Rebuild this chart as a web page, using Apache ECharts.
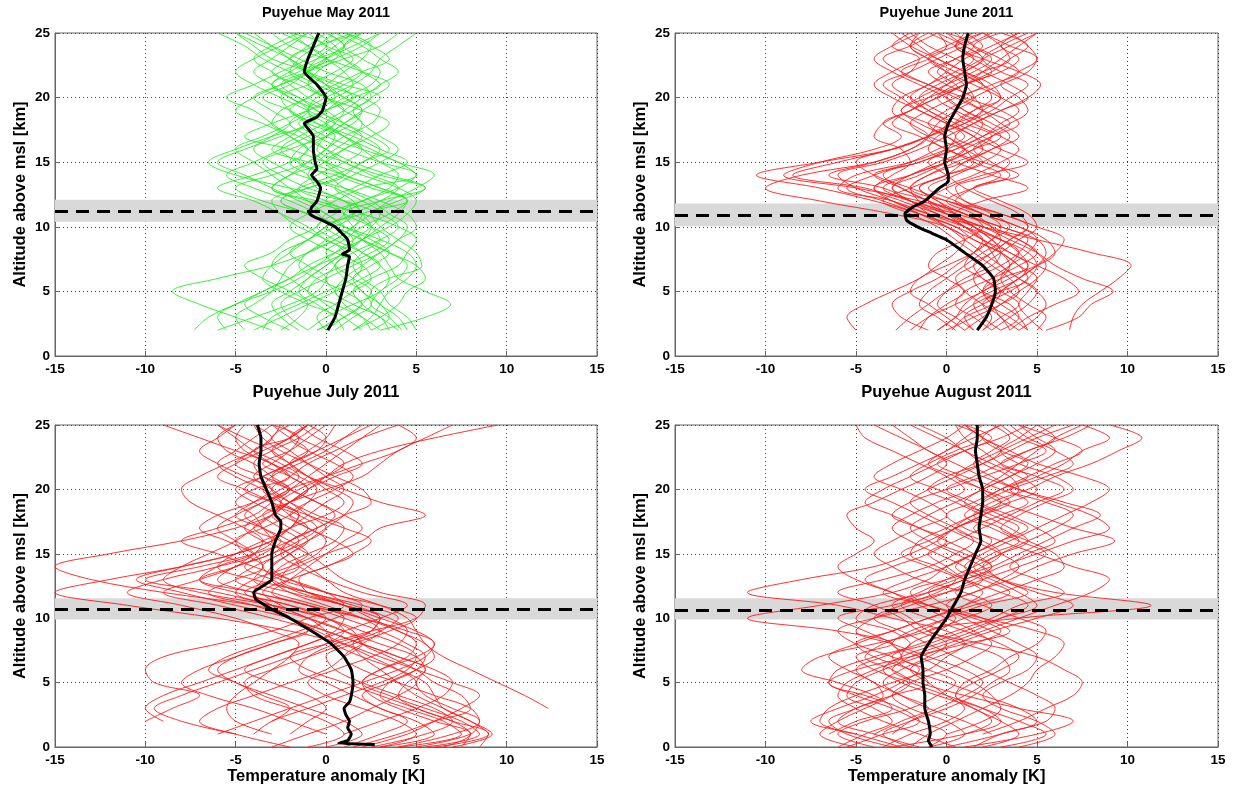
<!DOCTYPE html>
<html>
<head>
<meta charset="utf-8">
<title>Puyehue 2011 temperature anomaly profiles</title>
<script src="https://cdn.jsdelivr.net/npm/echarts@6/dist/echarts.min.js"></script>
<style>
  html, body { margin: 0; padding: 0; background: #fff; }
  #chart { width: 1234px; height: 790px; }
</style>
</head>
<body>
<div id="chart"></div>
<script>
// altitude levels (km) for the profiles
const ALT_TOP = [2, 3, 4, 5, 6, 7, 8, 9, 10, 11, 12, 13, 14, 15, 16, 17, 18, 19, 20, 21, 22, 23, 24, 25];
const ALT_BOT = [0, 1, 2, 3, 4, 5, 6, 7, 8, 9, 10, 11, 12, 13, 14, 15, 16, 17, 18, 19, 20, 21, 22, 23, 24, 25];

const X_TICKS = [-15, -10, -5, 0, 5, 10, 15];
const Y_TICKS = [0, 5, 10, 15, 20, 25];

// May 2011 (green), one row per profile, values at ALT_TOP
const MAY_PROFILES = [
  [-3, -5, -7, -8.5, -6, -3, -1, 0.5, 1.5, 2, 1, -0.5, -1, -2, -1.5, -0.5, 0.5, 1, 0, -1, -0.5, 0.5, 1, 0],
  [-7.3, -6.5, -5, -3, -1.5, -0.5, 0.5, 1.5, 2.5, 3, 2, 0.5, -1, -0.5, 0.5, 1.5, 2, 1, 0, -1, -2, -1.5, -0.5, 0.5],
  [3, 5.5, 6.9, 5.5, 4, 3.5, 3, 2, 1.5, 1, 3, 5.5, 3, 1, 0, -1, -2, -1, 0.5, 1.5, 1, 0, -1, -2],
  [4.5, 4, 3, 2.5, 3.5, 5.3, 5, 4, 3, 2.5, 4.5, 3, 1, -1, -3, -2, -1, 0, 1, 2.5, 3, 2, 1, 2],
  [-1.5, -2.5, -3, -2, -1, 0, 1, 2, 3.5, 4.5, 5, 4, 2, 0, -2, -4.5, -3, -1, 0.5, 0, -1, -2, -3, -4],
  [0.5, 1.5, 2.5, 2, 1, 0.5, 1.5, 3, 4, 3, 1, -2, -5, -6.5, -5, -3, -1, -2, -3.5, -2, -1, 0, -1, -2.5],
  [2, 1, 0, -1, -2, -3, -2.5, -1, 0, 1, -1, -3, -2, -1, 0, 1, 2.5, 3, 2, 0, -1, -3, -4, -5],
  [-4.5, -5, -4, -3, -2.5, -2, -1, 0, 1, 0, -1, -2, -3, -4, -5, -3.5, -2, -1, -2, -3, -4, -3, -2, -1],
  [5, 4.5, 3.5, 3, 2, 1.5, 2, 3, 2.5, 1.5, 0, -1.5, -0.5, 1, 2, 1, -0.5, -1, 0, 1.5, 2.5, 3, 4, 5],
  [1.5, 2.5, 3, 3.5, 4.5, 5, 4.5, 3, 1, -1, -3.5, -5, -3, -1, 0, 0.5, -1, -2, -2.5, -1, 0.5, 1.5, 0, -1],
  [-2.5, -1.5, -1, -2, -3.5, -4.5, -3, -2, -0.5, 0, 2, 3.5, 4, 3, 2, 1, 0, -1, -0.5, 1, 2, 1, 0, 1.5],
  [3.5, 3, 1.5, 0.5, 1, 2, 3, 4, 4.5, 3.5, 2.5, 1, 0, -1.5, -2.5, -1.5, 0, 1.5, 2.5, 3.5, 2, 0, -2, -3],
  [-6, -4, -2, -0.5, 0, -1, -2, -1, 0.5, 1.5, 1, -1, -2.5, -3.5, -2, 0, 1.5, 2, 1, -0.5, -2, -3.5, -4.5, -6],
  [0, -0.5, 0.5, 1.5, 2.5, 2, 0.5, -1, -2, -1, 0.5, 2, 5, 4, 2, 0, -1, 0, 1.5, 0.5, -1, 0.5, 2, 3],
  [2.5, 2, 1, 0.5, 0, 0.5, 1, 0, -1.5, -2.5, -3, -1, 1, 2, 3.5, 2.5, 1, -0.5, -1.5, -3, -2, -0.5, 1, 0],
  [-1, 0, 1.5, 3, 3.5, 3, 2, 1, 0, 2, 4, 5.5, 3.5, 1.5, 0, -1.5, -3, -2.5, -1, 0, 1, 2, 2.5, 1],
  [4, 3, 2, 1.5, 2.5, 4, 4.5, 5, 4, 2, -0.5, -3, -2, 0, 1, 2, 1, 0, -1.5, -2.5, -1, 1, 3, 4],
  [-3.5, -3, -1.5, 0, 1.5, 2, 1.5, 0, -1, -2.5, -4, -6, -4, -2, -1, -2, -3, -4, -5.5, -4, -2.5, -1, 0, -2],
  [1, 0.5, -0.5, -1.5, -1, 0, 1, 2, 2.5, 2, 1.5, 0.5, 1.5, 3, 4, 3, 2, 1.5, 2.5, 2, 0, -1.5, -3, -4.5],
  [-0.5, 1, 2, 2.5, 1.5, 0.5, 0, 1, 2, 3.5, 4.5, 2.5, 0.5, -1.5, -1, 0, 1, 2, 3, 1, -1, -2, -0.5, 2],
  [-2, -3.5, -4.5, -3.5, -2, -1, 0.5, 2, 3, 4, 4.5, 3, 1, 0, 1, 2.5, 3.5, 2, 0, -1.5, -3, -2, -1, 0],
  [1.5, 3, 4, 4.5, 5.5, 5, 3.5, 2, 0.5, -0.5, -2, -4, -5.5, -4, -2.5, -1, 0.5, -0.5, -2, -3, -1.5, 0, 1.5, 3],
  [-5.5, -6, -5, -3.5, -2, -0.5, 1, 1.5, 0.5, -1, -2.5, -1.5, 0.5, 2, 3, 2, 0.5, -1, -2.5, -4, -5, -4, -2.5, -1],
  [3, 2, 0.5, -1, -0.5, 1, 2.5, 3.5, 2.5, 1, 0, 1.5, 3, 4.5, 3, 1.5, -0.5, -2, -1, 0.5, 2, 3.5, 2.5, 1],
  [0, 1, 2, 1, -0.5, -1.5, -1, 0.5, 1.5, 2.5, 3.5, 5, 6, 4, 2.5, 1, 0, 1, 2, 3, 4, 3, 2, 0.5],
  [-1, -2, -2.5, -1.5, 0, 1.5, 3, 4, 5, 4.5, 3, 1, -1.5, -3, -4, -3, -2, -3, -4, -2.5, -1, -2, -3.5, -5],
  [2.5, 3.5, 3, 2, 1.5, 2.5, 3.5, 2.5, 1, 0, -1.5, -3, -4.5, -6, -4.5, -2.5, -1, 0, -1, -2, -3, -4, -3, -1.5],
  [-4, -2.5, -1, 0.5, 2, 3, 2, 0.5, -0.5, 0.5, 2, 4, 5, 3, 1, -0.5, -1.5, 0, 1.5, 3, 2, 1, 0.5, -0.5],
  [4.2, 3.5, 2.5, 3, 4, 4.5, 3.5, 2, 0.5, -1, -2.5, -1, 1, 0, -1, -2, -3.5, -5, -4, -2.5, -1, 0, 1, 2],
  [-0.5, 0.5, -1, -2.5, -3.5, -3, -2, -1, 0, 1.5, 3, 4, 2.5, 1, -0.5, 0, 1, 2, 1, 0, -1, -0.5, 0.5, 1.5]
];
const MAY_MEAN_ALT = [2, 3, 4, 5, 6, 7, 7.7, 7.9, 8.2, 9, 10, 10.5, 11, 11.5, 12, 13, 13.5, 14, 14.5, 15, 16, 17, 18, 18.5, 19, 20, 21, 22, 23, 24, 25];
const MAY_MEAN_T = [0.1, 0.5, 0.7, 0.9, 1.1, 1.2, 1.3, 0.9, 1.3, 1.2, 0.5, -0.2, -0.9, -0.8, -0.5, -0.3, -0.5, -0.8, -0.5, -0.6, -0.7, -0.7, -1.2, -0.5, -0.2, 0, -0.5, -1.2, -1.0, -0.7, -0.4];
const MAY_BAND = [10.4, 12.1];
const MAY_TROP = 11.2;

// June 2011 (red), values at ALT_TOP
const JUN_PROFILES = [
  [-5, -5.5, -4.5, -3, -1.5, -0.5, 0.5, 1, 0, -3, -7, -10, -8, -4, -2, -1, -0.5, 0.5, 1.5, 1, 0, -1, -2, -1],
  [6.8, 7, 7.5, 8.5, 9.5, 10.2, 8, 5, 2, -1, -3, -4, -2, 0, 1.5, 3, 2, 0.5, -0.5, 0.5, 2, 3.5, 3, 2],
  [5.5, 7.3, 8, 9.2, 7.5, 6, 5, 3.5, 2, 0, -1.5, -2, -1, 0.5, 2, 1.5, 0, -1.5, -2.5, -3.5, -2, -0.5, 1, 2.5],
  [-2.8, -2, -1, 0, 1.5, 3, 4, 4.5, 3, 0.5, -2, -4.5, -8.5, -6, -3, -1, 0.5, 1.5, 2.5, 2, 0.5, -1, -2, -1.5],
  [1, 2, 3, 4, 5, 5.5, 5, 4, 2, 0, -2, -3, -1.5, 0, 1, 2.5, 4, 3, 1, -1, -2.5, -3.5, -2, -0.5],
  [3, 2, 1.5, 2.5, 4, 4.5, 4, 3, 1.5, 0.5, 2, 4.5, 2.5, 0.5, -1, -0.5, 1, 2.5, 3.5, 4.5, 3, 2, 3, 4.5],
  [-1.5, -1, 0, 1, 0, -1, -0.5, 1, 2, 1, -1.5, -5, -9, -7, -4, -2.5, -3.5, -2, -1, 0, 1, 2, 1, 0],
  [0.3, 1, 2.5, 3, 2, 1.5, 2.5, 3.5, 4.5, 3, 0, -2, -1, 1, 2.5, 3.5, 2.5, 1, 0, -1.5, -3, -4, -3, -1.5],
  [4.5, 4, 3, 2, 3, 5, 6, 5.5, 4, 2, 0.5, -1, 0.5, 2, 3, 2, 0.5, -1, -2, -1, 0.5, 1.5, 0.5, -1],
  [2.5, 3.5, 4.5, 5, 4, 3, 2, 1, 0, -1.5, -3, -5, -6, -3.5, -1.5, 0, 1.5, 3, 4.5, 5.2, 4, 2, 0.5, 1],
  [-1, -2.5, -3, -2, -0.5, 0.5, 1.5, 2, 1, -0.5, -2.5, -4, -3, -2, -2.5, -4, -3.5, -2, -0.5, 1, 2, 3, 4, 5],
  [5, 5.5, 4.5, 3.5, 3, 3.5, 4, 3, 1.5, 0, -1, 0, 2, 4.5, 3, 1.5, 0.5, 1.5, 3, 2.5, 1, -0.5, -1.5, -2.5],
  [1.5, 0.5, -0.5, 0, 1, 2.5, 3, 2.5, 1.5, 0.5, -1, -2.5, -4, -1.5, 0, 0.5, -1, -2.5, -1.5, 0, 1.5, 2.5, 1.5, 3],
  [3.5, 3, 2, 1, 0.5, 1.5, 2.5, 3.5, 4.5, 4, 2.5, 1, 0, -1, 0.5, 2, 3.5, 4.5, 4, 3, 4, 5, 4.5, 3.5],
  [-0.5, 0.5, 1.5, 3, 4.5, 4, 3, 1.5, 0.5, -1.5, -4, -7, -10.5, -7, -3, -1, 0, -1, -2, -3, -2, -1.5, -3, -2],
  [2, 2.5, 2, 3, 4, 5, 5.5, 5, 3, 1, -0.5, -1.5, 0, 1.5, 1, 0, -1, 0, 1, 0.5, -0.5, 0.5, 2, 1],
  [0.5, -0.5, -1.5, -1, 0, 1, 2, 3, 2.5, 1.5, 0, 1.5, 3.5, 2.5, 1.5, 2.5, 3.5, 2, 0.5, -1, -2.5, -1, 0, -0.5],
  [4, 5, 5.5, 5, 4, 3, 2.5, 2, 1, -0.5, -2, -3.5, -2, -0.5, 1, 0, -1.5, -2.5, -1, 1, 2.5, 1.5, 0.5, 2],
  [1.5, 1, 2, 3.5, 4.5, 5, 4.5, 3, 1, -1, -3, -6, -5, -2, 0, 1.5, 2, 1, 0, 1, 3, 4, 3, 4],
  [3, 4, 3.5, 2, 1.5, 2, 3, 4, 5, 4.5, 3, 1.5, 4, 2, 0, -1, 0.5, 2, 1.5, 0, -1, 0.5, 1.5, 0],
  [2.5, 1.5, 0.5, 1, 2.5, 4, 5, 4, 2.5, 1, -1, -2.5, -3.5, -1.5, 0.5, 2, 3, 4, 3, 1.5, 0, -1, 0.5, 2],
  [-2, -1, 0.5, 2, 3, 3.5, 3, 2, 0.5, -1.5, -3.5, -5.5, -4, -2, -0.5, 1, 0, -1.5, -3, -4, -3, -1.5, 0, 1.5],
  [4.5, 3.5, 2.5, 3, 4, 5, 6, 6.5, 5, 3, 1, 0, 1.5, 3, 4, 3, 1.5, 0.5, 1.5, 3, 4.5, 5, 3.5, 2],
  [0, 1.5, 3, 4, 3.5, 2.5, 1.5, 0.5, -0.5, -2, -3.5, -2, 0, 2, 1, -1, -2, -1, 0.5, 2, 1, -0.5, -2, -3],
  [3.5, 4.5, 6, 7.3, 6.5, 5, 3.5, 2.5, 1.5, 0.5, -0.5, -1.5, 0, 1, 2.5, 4, 3, 2, 1, 2.5, 4, 3, 1.5, 0.5],
  [1, 0, -1, -2, -1.5, 0, 1.5, 2.5, 3, 2, 0, -2, -4, -5, -3, -1, 1, 2, 3, 2, 1, 2, 3.5, 5],
  [5.3, 4.5, 4, 4.5, 5, 4, 3, 1.5, 0, -1, -2, -3.5, -6.5, -4, -2, -1, -2, -3, -2.5, -1, 0, 1, 2.5, 4],
  [2, 3, 4, 3, 2, 1, 1.5, 2.5, 3.5, 2.5, 1, 0.5, 2.5, 3.5, 2, 0.5, 1.5, 3, 4.5, 3.5, 2, 0.5, -1, -2],
  [-0.5, 0.5, 1, 2, 3.5, 4.5, 3.5, 2, 1, 0, -1, -3, -2, 0, 1.5, 2.5, 1, -0.5, -1.5, -0.5, 1, 2, 1, -0.5],
  [4, 3, 2.5, 2, 2.5, 3.5, 4.5, 5, 4, 2, 0.5, 1.5, 3, 1.5, 0, -1.5, -3, -2, -0.5, 1, 2.5, 3.5, 4.5, 3]
];
const JUN_MEAN_ALT = [2, 3, 4, 5, 6, 7, 8, 9, 9.5, 10, 10.5, 11, 11.5, 12, 13, 13.5, 14, 15, 16, 17, 18, 19, 20, 21, 22, 23, 24, 25];
const JUN_MEAN_T = [1.7, 2.2, 2.5, 2.7, 2.6, 2.0, 1.0, 0, -0.8, -1.6, -2.2, -2.3, -1.9, -1.2, -0.4, 0.1, 0.1, -0.1, 0, -0.1, 0.1, 0.5, 0.9, 1.1, 1.0, 0.9, 1.0, 1.2];
const JUN_BAND = [10.05, 11.8];
const JUN_TROP = 10.9;

// July 2011 (red), values at ALT_BOT (null = below profile start)
const JUL_PROFILES = [
  [null, null, -10, -8.5, -7, -9.5, -10, -9, -6, -3, -1, 1, 0, -2, -4, -6, -8, -6, -4, -3, -2, -3.5, -5, -4, -3, -4],
  [null, null, null, 12.3, 11, 9.5, 8, 6.5, 5.5, 5, 4.5, 3, 1, 0, -1, -2, -3, -2, 0, 1, 0, -1, -2, -3, -2, -1],
  [2, 4.5, 6, 7.5, 8.5, 7, 5, 3, 1, -2, -6, -11, -15, -12, -8, -5, -3, -2, -1, 0, 1, 0, -1, -2, -3, -2],
  [8.5, 9, 7, 5, 3, 1, -1, -2, 0, 2.5, 5, 5.5, 3, 1, 0, -1, -2.5, -4, -3, -2, -1, 0, 1, 3, 6, 9.5],
  [-2, -5, -7, -6, -4, -2, 0, 1, 2, 1, -1, -4, -9, -13, -15, -12, -8, -5, -3, -2, -1, -2, -3, -4, -2, -1],
  [5, 8, 8.5, 7, 5.5, 5, 5.5, 4, 2, 0, -2, -3, -4, -3.5, -3, -2, -1, 0, 1, 1.5, 0.5, -1, -2, -1, 0, 0.5],
  [null, 0, -2, -4, -6.5, -8, -7, -5, -3, -1, 0, -2, -5, -7, -6, -4, -3.5, -4.5, -6, -7.5, -8, -7, -5.5, -4, -3, -2.5],
  [3, 6, 5, 3, 2, 3.5, 5, 5.5, 4.5, 3, 1, -1, -3, -2, -1, 0, 1, 2, 1, -0.5, -2, -3.5, -4, -3, -1.5, -0.5],
  [null, -4, -3, -1, 1, 3, 4.5, 5, 4, 2, 0, -3, -6, -10, -7, -4, -2.5, -3.5, -4.5, -3.5, -2, -1, 0, 1, 2, 3],
  [7.5, 8, 6, 4, 2.5, 2, 3, 4.5, 5, 4, 2, -0.5, -3, -5, -4, -2.5, -1.5, -2.5, -3.5, -2, 0, 2, 3, 4, 5.5, 7],
  [null, null, -9, -10, -9, -7, -5, -3, -1, 0.5, 1, -1, -4, -6, -5, -3, -2, -1, -2, -3, -4.5, -6, -5, -3.5, -2, -1],
  [1, 3, 4.5, 3, 1.5, 0, -1.5, -1, 0.5, 2.5, 3, 1, -2, -4, -3.5, -4.5, -5, -3.5, -2, -1, -0.5, -1.5, -3, -4.5, -5, -4.5],
  [6, 9, 8, 6.5, 6, 5.5, 4, 2, 0.5, 0, -1, -3, -5, -4, -2, -0.5, 0, -1, -2.5, -4, -5, -3.5, -2, -1, -2, -3],
  [null, -2, -1, 0, -1, -3, -4.5, -3, -1, 1, 3, 4.5, 2, 0, -1.5, -2.5, -2, -0.5, 1, 2.5, 2, 0.5, -1, -2.5, -3.5, -4],
  [4, 7, 8.5, 8, 6, 4, 2, 1, 2, 3, 2, 0, -2, -3, -1.5, 0, 2, 3, 5.5, 3, 1, -1, -2, -3, -4.5, -6],
  [null, -3, -5, -5.5, -5, -4, -3, -2, -1.5, -3, -5, -8, -11, -9, -6, -4, -5, -6, -5, -3.5, -2, -3, -4, -5.5, -6, -5],
  [2.5, 5.5, 7, 6, 4, 2, 0.5, 0, 1.5, 3.5, 5, 3, 0, -2, -3, -2, -1, -2, -3, -2, -1, 0.5, 2, 1, -0.5, -1.5],
  [null, -6, -4, -2, 0, 2, 4, 5.5, 6, 4.5, 2, -1, -4, -7, -5, -3, -1.5, -0.5, -1.5, -3, -2, 0, 2, 4, 5, 4],
  [0, 2, 1, -1, -3, -5, -6, -5, -3, -1, -3, -6, -9, -7, -5, -4, -3, -3.5, -4, -5, -4, -2, -3, -5, -7, -9],
  [5.5, 8.5, 7.5, 5.5, 3.5, 2, 3, 5, 6, 5, 3, 1, -1, -1.5, 0, 1.5, 0.5, -1, -2, -1, 0.5, 1.5, 0.5, -1, -2, -1],
  [null, 1, 3, 5, 6.5, 7, 6, 4, 2, 0, -2, -5, -8, -10.5, -8, -5, -3, -2, -1.5, -2.5, -3.5, -3, -1.5, 0, 1, 2],
  [-1, 1, 0, -2, -4, -4.5, -3, -1, 1, 3, 4, 2, -1, -3, -2.5, -1, 0.5, 1, -0.5, -2, -3, -2, -1, 0.5, 2, 4],
  [4, 7.5, 6.5, 4.5, 3, 3.5, 5, 6, 5.5, 4, 2.5, 1, -1, -2.5, -2, -1, -2, -3.5, -5, -4, -3, -4.5, -6, -7, -6, -5],
  [null, -5, -8, -9.5, -8, -6, -4, -2, 0, 1, 0, -3, -7, -9, -8, -6.5, -5, -4, -3, -2.5, -3.5, -5, -6, -5, -4, -3],
  [1.5, 4, 6, 8, 7.5, 6, 5, 3.5, 2, 1.5, 0, -2, -4.5, -3, -1.5, -2, -3.5, -4.5, -3.5, -2, -1, -2, -3.5, -2, -1, 0],
  [-3, -1, 1, 2.5, 4, 5, 4, 2.5, 1, -0.5, -2, -4, -6.5, -5, -3.5, -4, -5.5, -7, -6, -4, -2.5, -1.5, -2.5, -4, -5, -6],
  [6.5, 8, 7, 5, 4, 4.5, 5.5, 5, 3, 1, -1, -2.5, -3.5, -2, 0, 1.5, 2.5, 1, -1, -2.5, -1.5, 0, 1, 0, -1.5, -2.5],
  [null, null, -3, -2, -3.5, -5, -6.5, -5.5, -3.5, -1.5, 0.5, 2, 0, -2.5, -3.5, -2.5, -1, 0, -1, -2, -3, -4, -3, -2, -1.5, -3],
  [3, 5, 4, 2, 0, -1, 0.5, 2.5, 4, 4.5, 3.5, 1.5, -1, -4, -6, -5, -3.5, -2, -1.5, -3, -4.5, -3.5, -2, -0.5, 0, -1],
  [7, 9.2, 8, 6.5, 5, 4, 3, 2, 1.5, 2.5, 3, 1, -1.5, -3, -4.5, -3.5, -2, -0.5, 0.5, -0.5, -2, -3, -2, -0.5, 1, 2.5]
];
const JUL_MEAN_ALT = [0.2, 0.3, 0.5, 1, 1.5, 2, 2.5, 3, 3.5, 4, 5, 6, 7, 8, 9, 10, 10.7, 11.5, 12, 12.5, 13, 14, 15, 16, 17, 17.5, 18, 19, 20, 21, 22, 23, 24, 25];
const JUL_MEAN_T = [2.7, 0.7, 1.2, 1.4, 1.2, 1.3, 1.1, 1.0, 1.3, 1.4, 1.5, 1.4, 1.0, 0.3, -0.8, -2, -3, -3.9, -4, -3.5, -3.0, -3, -3, -2.8, -2.5, -2.5, -2.8, -3, -3.3, -3.6, -3.7, -3.6, -3.6, -3.8];
const JUL_BAND = [9.9, 11.55];
const JUL_TROP = 10.7;

// August 2011 (red), values at ALT_BOT
const AUG_PROFILES = [
  [null, -5, -7, -6.5, -5, -3, -1, 0, 1, 0, -3, -6, -11, -8, -4, -2, -0.5, 0.5, 2, 3.5, 2, 0.5, -1, 0, 1.5, 3],
  [-3, 1, 3, 2, 0, -2, -4, -5, -3, -6, -11, -7, -3, -1, 0, 1.5, 3, 4.5, 3, 1.5, 0, 1.5, 3, 4.5, 6, 5],
  [null, 2, 4, 5.5, 7, 7.5, 6.5, 5, 2, -1, 4, 11.3, 6, 3, 1.5, 2.5, 4, 3, 1.5, 2.5, 4.5, 6, 8, 9.5, 10.8, 9],
  [-1.5, -4, -6, -5, -3, -1, -2, -4, -5, -3, -1, 1, 3, 5, 6.5, 6, 4.5, 3, 4, 5.5, 7, 6, 4, 3, 4, 5],
  [0, 3, 5, 4, 2, 0, -2, -3, -1, 1, 3, 5, 4, 2.5, 1, 2, 3.5, 5, 6.5, 8, 9, 7.5, 5, 3.5, 2, 1],
  [null, -6.5, -5, -3, -4, -6, -8, -7, -4, -1, 1, 2.5, 1, -1.5, -3, -4, -3, -1.5, 0, -1, -2.5, -4, -3, -1.5, 0, 1],
  [-2, -1, 0.5, 2, 3.5, 4.5, 5, 6, 6.5, 5, 2, -1, -2, 0, 2.5, 4, 5.5, 7, 8.5, 6.5, 4, 2.5, 1.5, 2.5, 3.5, 2.5],
  [1, 5, 7, 4, 1, -1.5, -3, -2, 0, 2, 4, 6, 8, 9, 7, 5, 3, 1.5, 3, 4.5, 3, 1, -0.5, 1, 3, 4.5],
  [-4, -6, -4.5, -2, -0.5, 0.5, -1, -2.5, -2, -0.5, 0.5, -1, -3, -5, -6, -5, -4, -5, -5.5, -4, -2.5, -1, 0, -1, -2.5, -4],
  [-1, 0, -1.5, -3, -5, -6.5, -5, -2, 1, 3.5, 2, 0, -1, 0.5, 2, 3, 2, 0.5, 1.5, 3, 4, 3.5, 2, 1, -0.5, -2],
  [null, 2.5, 1, -1, -2.5, -3.5, -2.5, -1, 0, -1.5, -2.5, -4, -6, -3.5, -1, 0.5, 1.5, 0.5, -1, -2, -1, 0.5, 2, 3, 2, 1],
  [-5, -7, -6, -4.5, -3, -2, -3, -4.5, -3.5, -1.5, 0, 2, 4.5, 3, 2, 3, 4.5, 6, 7, 5.5, 3.5, 5, 6.5, 7.5, 9, 7.5],
  [2, 4, 3, 1.5, 0.5, 1.5, 3, 4, 3, 1, -1, -2.5, -1, 1, 2.5, 1.5, 0, -1.5, -3, -2, 0, 2, 4, 5.5, 4, 3],
  [null, -3, -2, -0.5, 1, 2, 1, -1, -3, -5, -4, -2, 0, 1.5, 3, 5, 7, 9, 8, 6, 4, 2, 0.5, -1, -2, -3],
  [-6, -4.5, -3, -4, -5.5, -5, -3.5, -1.5, 0.5, 2.5, 5, 7, 5, 3, 2, 0.5, -1, -2, -1, 0.5, 2, 3.5, 5, 6, 5, 4],
  [0.5, -1.5, -3.5, -5, -6, -5.5, -4, -2.5, -3, -4.5, -6, -3, 0, 2, 1, -0.5, -2, -3, -2, -0.5, 1, 0, -1.5, -3, -4.5, -5],
  [4, 6, 5, 3, 2, 3, 4.5, 5, 4, 2.5, 1, 0, 1.5, 3.5, 5, 7, 9.3, 7, 5, 3, 2, 3, 4, 5, 6, 7.5],
  [-3.5, -2, 0, 1, 0, -1, -2, -0.5, 1.5, 3, 1.5, -1, -3.5, -2, 0, 1.5, 2.5, 1, 0, 1.5, 3, 4.5, 3, 2, 1, 0.5],
  [null, 0, 2, 3, 2.5, 1.5, 0, -1.5, -3, -2, 0, 1, 2, 1, 0, -1, 0.5, 2, 3.5, 5, 6.5, 5, 3, 4.5, 6.5, 8],
  [-2.5, -5, -7.5, -6, -4, -2.5, -1.5, -3, -5, -6, -4, -1, 1.5, 3, 4, 3, 1.5, 0, -1.5, -3, -4.5, -3, -1.5, 0, 1, 2],
  [-3, -5.5, -6.5, -5, -3.5, -4, -5.5, -6.5, -5, -3, -1, 1.5, 3.5, 2, 0.5, 1.5, 3, 4, 2.5, 1, 2, 3.5, 4.5, 3, 2, 3],
  [1.5, 3, 5.5, 6, 5, 3.5, 2, 0.5, -1, -2.5, -4, -2.5, -0.5, 0.5, -1, -2.5, -1, 0.5, 2, 3, 2, 0.5, 1.5, 3, 4.5, 6],
  [null, -4, -2.5, -1, -2.5, -4, -5, -3.5, -1.5, 0.5, 2.5, 4, 6.5, 5, 3.5, 4.5, 6, 5, 3.5, 2, 3, 4.5, 6, 7.5, 6, 4],
  [-1, 1, 0, -2, -3, -2, 0, 1.5, 2.5, 1.5, 0, -1.5, -3, -4.5, -3, -1, 0, -1.5, -3, -4.5, -3.5, -2, -0.5, 1, 2.5, 1],
  [3, 5.5, 4, 2, 0.5, 1, 2.5, 3.5, 5, 5.5, 4, 2, 0.5, 2, 4, 5.5, 4, 2.5, 1, 2, 3.5, 5.5, 7, 6, 4.5, 3.5],
  [-5.5, -3.5, -1.5, -2.5, -4.5, -6.5, -6, -4, -2, -3, -5, -4, -1, 1, 2.5, 1, -0.5, 0.5, 2, 1, -0.5, -2, -1, 0.5, 2, 0.5],
  [null, 1, 2.5, 1.5, -0.5, -2.5, -3.5, -2.5, -0.5, 1.5, 3, 4.5, 3, 1, -0.5, -2, -1.5, 0, 1.5, 3.5, 5, 4, 2.5, 1, 0, -1.5],
  [-2, -3.5, -2, 0, 1.5, 2.5, 3.5, 3, 1, -1, -2, -3, -1.5, 0, 1.5, 3, 4.5, 3.5, 2, 0.5, -1, 0, 2, 3.5, 5, 7]
];
const AUG_MEAN_ALT = [0, 0.5, 1, 2, 3, 4, 5, 6, 7, 8, 9, 10, 11, 12, 13, 14, 15, 16, 17, 18, 19, 20, 21, 22, 23, 24, 25];
const AUG_MEAN_T = [-0.8, -1, -0.9, -1, -1.2, -1.2, -1.3, -1.3, -1.4, -1, -0.5, 0, 0.4, 0.8, 1, 1.3, 1.6, 1.9, 1.8, 1.9, 2, 2, 1.8, 1.7, 1.6, 1.7, 1.7];
const AUG_BAND = [9.9, 11.55];
const AUG_TROP = 10.65;

const FONT = '"Liberation Sans", Arial, Helvetica, sans-serif';

const panels = [
  { title: 'Puyehue May 2011', titleSize: 14.5, color: '#22ee22', alt: ALT_TOP, profiles: MAY_PROFILES,
    meanAlt: MAY_MEAN_ALT, meanT: MAY_MEAN_T, band: MAY_BAND, trop: MAY_TROP },
  { title: 'Puyehue June 2011', titleSize: 14.5, color: '#ff1a1a', alt: ALT_TOP, profiles: JUN_PROFILES,
    meanAlt: JUN_MEAN_ALT, meanT: JUN_MEAN_T, band: JUN_BAND, trop: JUN_TROP },
  { title: 'Puyehue July 2011', titleSize: 16.5, color: '#ff1a1a', alt: ALT_BOT, profiles: JUL_PROFILES,
    meanAlt: JUL_MEAN_ALT, meanT: JUL_MEAN_T, band: JUL_BAND, trop: JUL_TROP },
  { title: 'Puyehue August 2011', titleSize: 16.5, color: '#ff1a1a', alt: ALT_BOT, profiles: AUG_PROFILES,
    meanAlt: AUG_MEAN_ALT, meanT: AUG_MEAN_T, band: AUG_BAND, trop: AUG_TROP }
];

// grid boxes in px: [left, top, width, height]
const boxes = [
  [55, 33, 542, 323],
  [675, 33, 543, 323],
  [55, 425, 542, 322],
  [675, 425, 543, 322]
];
const titleY = [13, 392];

const chart = echarts.init(document.getElementById('chart'));

const grids = [], xAxes = [], yAxes = [], series = [], graphics = [];

panels.forEach((p, i) => {
  const [l, t, w, h] = boxes[i];
  const bottomRow = i >= 2;
  grids.push({ left: l, top: t, width: w, height: h, show: true, borderColor: '#666', borderWidth: 1, backgroundColor: '#fff' });

  xAxes.push({
    gridIndex: i, type: 'value', min: X_TICKS[0], max: X_TICKS[X_TICKS.length - 1], interval: 5,
    axisLine: { show: true, onZero: false, lineStyle: { color: '#666' } },
    axisTick: { show: true, inside: true, length: 5, lineStyle: { color: '#666' } },
    axisLabel: { color: '#000', fontWeight: 'bold', fontSize: 13.5, fontFamily: FONT, margin: 6 },
    splitLine: { show: true, lineStyle: { color: '#444', width: 1, type: [1, 3] } },
    name: bottomRow ? 'Temperature anomaly [K]' : '',
    nameLocation: 'middle', nameGap: 19,
    nameTextStyle: { color: '#000', fontWeight: 'bold', fontSize: 16.5, fontFamily: FONT }
  });

  yAxes.push({
    gridIndex: i, type: 'value', min: Y_TICKS[0], max: Y_TICKS[Y_TICKS.length - 1], interval: 5,
    axisLine: { show: true, onZero: false, lineStyle: { color: '#666' } },
    axisTick: { show: true, inside: true, length: 5, lineStyle: { color: '#666' } },
    axisLabel: { color: '#000', fontWeight: 'bold', fontSize: 13.5, fontFamily: FONT, margin: 5 },
    splitLine: { show: true, lineStyle: { color: '#444', width: 1, type: [1, 3] } },
    name: 'Altitude above msl [km]',
    nameLocation: 'middle', nameGap: 26, nameRotate: 90,
    nameTextStyle: { color: '#000', fontWeight: 'bold', fontSize: 16.5, fontFamily: FONT }
  });

  // tropopause band (under the profiles)
  series.push({
    type: 'line', xAxisIndex: i, yAxisIndex: i, z: 1, silent: true,
    data: [[X_TICKS[0], p.trop]], showSymbol: false, symbol: 'none',
    lineStyle: { opacity: 0 },
    markArea: {
      silent: true,
      itemStyle: { color: '#d9d9d9', opacity: 1 },
      data: [[{ yAxis: p.band[0] }, { yAxis: p.band[1] }]]
    }
  });

  p.profiles.forEach((row) => {
    const pts = [];
    row.forEach((v, k) => { if (v !== null) pts.push([v, p.alt[k]]); });
    series.push({
      type: 'line', xAxisIndex: i, yAxisIndex: i, z: 2, silent: true,
      data: pts, showSymbol: false, symbol: 'none', smooth: 0.35,
      lineStyle: { color: p.color, width: 0.9 }
    });
  });

  // monthly mean profile and tropopause line
  series.push({
    type: 'line', xAxisIndex: i, yAxisIndex: i, z: 5, silent: true,
    data: p.meanT.map((v, k) => [v, p.meanAlt[k]]),
    showSymbol: false, symbol: 'none', smooth: 0.15,
    lineStyle: { color: '#000', width: 3 },
    markLine: {
      silent: true, symbol: ['none', 'none'], label: { show: false },
      lineStyle: { color: '#000', width: 3, type: [13, 8] },
      data: [{ yAxis: p.trop }]
    }
  });

  graphics.push({
    type: 'text', x: l + w / 2, y: titleY[bottomRow ? 1 : 0],
    style: {
      text: p.title, textAlign: 'center', textVerticalAlign: 'middle',
      font: 'bold ' + p.titleSize + 'px ' + FONT, fill: '#000'
    }
  });
});

chart.setOption({
  animation: false,
  backgroundColor: '#fff',
  grid: grids,
  xAxis: xAxes,
  yAxis: yAxes,
  series: series,
  graphic: graphics
});

window.addEventListener('resize', () => chart.resize());
</script>
</body>
</html>
